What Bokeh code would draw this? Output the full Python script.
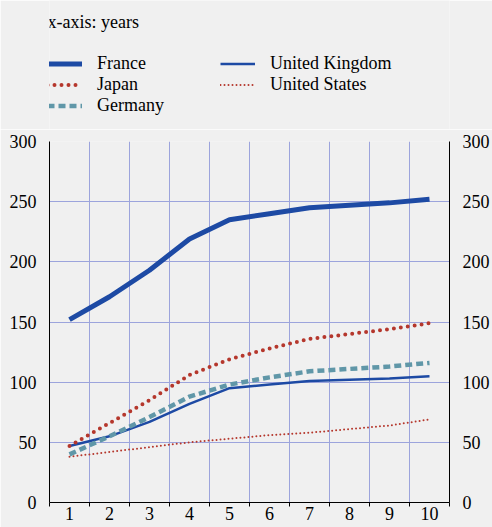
from bokeh.plotting import figure
from bokeh.layouts import column
from bokeh.models import (Range1d, LinearAxis, FixedTicker, Legend, LegendItem, Label)
from bokeh.embed import file_html
from bokeh.resources import INLINE

years = [1, 2, 3, 4, 5, 6, 7, 8, 9, 10]
france = [152, 171, 193, 219, 235, 240, 245, 247, 249, 252]
japan = [47, 66, 85, 106, 119, 128, 136, 140, 144, 149]
germany = [40, 55, 71, 88, 98, 104, 109, 111, 113, 116]
uk = [47, 55, 67, 82, 95, 98, 101, 102, 103, 105]
us = [38, 42, 46, 50, 53, 56, 58, 61, 64, 69]
y_ticks = [0, 50, 100, 150, 200, 250, 300]
title_text = "x-axis: years"

BLUE = "#1D4AA4"
RED = "#B5372C"
TEAL = "#6097A8"
GRID = "#9CA4DC"
BG = "#F0F0F0"
FONT = "Liberation Serif"
FS = "18px"

styles = {
    "France": dict(line_color=BLUE, line_width=5, line_join="round"),
    "Japan": dict(line_color=RED, line_width=4, line_dash="0 7", line_cap="round"),
    "Germany": dict(line_color=TEAL, line_width=4.5, line_dash="7 4"),
    "United Kingdom": dict(line_color=BLUE, line_width=2.5),
    "United States": dict(line_color=RED, line_width=2, line_dash="0 4", line_cap="round"),
}
series = {"France": france, "Japan": japan, "Germany": germany,
          "United Kingdom": uk, "United States": us}

# ---------- header: title + legend ----------
head = figure(width=492, height=129, output_backend="svg", toolbar_location=None,
              x_range=Range1d(0, 1), y_range=Range1d(-2, -1),
              min_border_left=49, min_border_right=41, min_border_top=0, min_border_bottom=0,
              background_fill_color=BG, border_fill_color=BG, outline_line_color=None,
              x_axis_location=None, y_axis_location=None)
head.grid.visible = False

# key renderers (their data lies outside the header's ranges; only the legend shows them)
key = {name: head.line(years, series[name], **styles[name]) for name in series}

head.add_layout(Label(x=-2, y=108, x_units="screen", y_units="screen", text=title_text,
                      text_font=FONT, text_font_size=FS, text_baseline="middle",
                      text_color="black"))


def make_legend(names, loc):
    return Legend(items=[LegendItem(label=n, renderers=[key[n]]) for n in names],
                  location=loc, orientation="vertical",
                  glyph_width=35, glyph_height=21, label_height=21, spacing=0,
                  label_standoff=15, padding=0, margin=0, border_line_color=None,
                  background_fill_alpha=0, label_text_font=FONT,
                  label_text_font_size=FS, label_text_color="black")


head.add_layout(make_legend(["France", "Japan", "Germany"], (-2, 13)))
head.add_layout(make_legend(["United Kingdom", "United States"], (171, 34)))

# ---------- main chart ----------
p = figure(width=492, height=398, output_backend="svg", toolbar_location=None,
           x_range=Range1d(0.5, 10.5), y_range=Range1d(0, 300),
           min_border_left=49, min_border_right=41, min_border_top=12,
           min_border_bottom=25, background_fill_color=BG, border_fill_color=BG,
           outline_line_color=None, y_axis_location=None, x_axis_location=None)

xaxis = LinearAxis(ticker=FixedTicker(ticks=years, minor_ticks=[y + 0.5 for y in [0] + years]))
xaxis.major_tick_out = 0
xaxis.major_tick_in = 0
xaxis.minor_tick_out = 4
xaxis.minor_tick_in = 0
xaxis.major_label_standoff = 0
xaxis.axis_line_color = "black"
xaxis.minor_tick_line_color = "black"
xaxis.major_label_text_font = FONT
xaxis.major_label_text_font_size = FS
xaxis.major_label_text_color = "black"
p.add_layout(xaxis, "below")

for side, standoff in (("left", 13), ("right", 13)):
    ax = LinearAxis(ticker=FixedTicker(ticks=y_ticks))
    ax.major_tick_out = 0
    ax.major_tick_in = 0
    ax.minor_tick_out = 0
    ax.minor_tick_in = 0
    ax.major_label_standoff = standoff
    ax.axis_line_color = "black"
    ax.major_label_text_font = FONT
    ax.major_label_text_font_size = FS
    ax.major_label_text_color = "black"
    p.add_layout(ax, side)

p.xgrid.ticker = FixedTicker(ticks=[y + 0.5 for y in years[:-1]])
p.ygrid.ticker = FixedTicker(ticks=y_ticks[1:])
p.xgrid.grid_line_color = GRID
p.ygrid.grid_line_color = GRID
p.xgrid.grid_line_width = 1
p.ygrid.grid_line_width = 1

for name in ["United States", "United Kingdom", "Germany", "Japan", "France"]:
    p.line(years, series[name], **styles[name])

layout = column(head, p, spacing=0)
open("out.html", "w").write(file_html(layout, INLINE))
